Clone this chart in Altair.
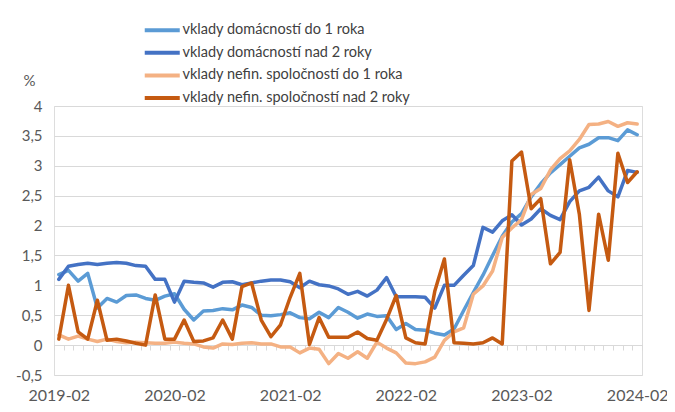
import json
import altair as alt
import pandas as pd

# categories: monthly observations 2019-02 .. 2024-02
all_months = [f"{y}-{m:02d}" for y in range(2019, 2025) for m in range(1, 13)]
months = all_months[all_months.index("2019-02"): all_months.index("2024-02") + 1]
label_months = ["2019-02", "2020-02", "2021-02", "2022-02", "2023-02", "2024-02"]

series_names = [
    "vklady domácností do 1 roka",
    "vklady domácností nad 2 roky",
    "vklady nefin. spoločností do 1 roka",
    "vklady nefin. spoločností nad 2 roky",
]
colors = ["#5B9BD5", "#4472C4", "#F4B183", "#C55A11"]

hh_short = [1.18, 1.25, 1.07, 1.2, 0.62, 0.78, 0.72, 0.83, 0.84, 0.78,
            0.75, 0.82, 0.86, 0.6, 0.42, 0.57, 0.58, 0.61, 0.59, 0.67,
            0.63, 0.5, 0.49, 0.51, 0.54, 0.46, 0.44, 0.55, 0.46, 0.63,
            0.55, 0.45, 0.52, 0.48, 0.49, 0.26, 0.36, 0.26, 0.25, 0.2,
            0.17, 0.27, 0.58, 0.88, 1.17, 1.5, 1.82, 2.06, 2.2, 2.48,
            2.7, 2.88, 3.02, 3.16, 3.3, 3.36, 3.47, 3.47, 3.42, 3.6, 3.52]
hh_long = [1.1, 1.32, 1.35, 1.37, 1.35, 1.37, 1.38, 1.37, 1.33, 1.32,
           1.1, 1.1, 0.72, 1.07, 1.05, 1.04, 0.97, 1.05, 1.06, 1.01,
           1.04, 1.07, 1.09, 1.09, 1.06, 0.96, 1.07, 1.01, 0.99, 0.94,
           0.85, 0.9, 0.82, 0.92, 1.13, 0.81, 0.81, 0.81, 0.8, 0.62,
           1.0, 1.0, 1.17, 1.33, 1.97, 1.89, 2.08, 2.18, 2.01, 2.11,
           2.28, 2.17, 2.1, 2.4, 2.58, 2.64, 2.81, 2.58, 2.48, 2.92, 2.89]
nfc_short = [0.17, 0.1, 0.15, 0.1, 0.06, 0.1, 0.06, 0.04, 0.05, 0.04,
             0.03, 0.03, 0.05, 0.03, 0.02, -0.03, -0.05, 0.02, 0.01, 0.03,
             0.04, 0.02, 0.02, -0.03, -0.03, -0.13, -0.05, -0.07, -0.31, -0.14,
             -0.22, -0.11, -0.22, 0.05, -0.05, -0.13, -0.3, -0.31, -0.28, -0.2,
             0.08, 0.22, 0.29, 0.85, 0.99, 1.24, 1.8, 1.96, 2.1, 2.52,
             2.62, 2.93, 3.12, 3.25, 3.44, 3.69, 3.7, 3.74, 3.66, 3.72, 3.7]
nfc_long = [0.1, 1.0, 0.22, 0.1, 0.75, 0.08, 0.1, 0.07, 0.03, 0.0,
            0.84, 0.1, 0.1, 0.42, 0.06, 0.07, 0.12, 0.42, 0.1, 0.98,
            1.04, 0.42, 0.14, 0.34, 0.8, 1.2, 0.01, 0.46, 0.13, 0.13,
            0.13, 0.22, 0.11, 0.08, 0.43, 0.83, 0.12, 0.04, 0.02, 0.9,
            1.44, 0.04, 0.03, 0.02, 0.04, 0.12, 0.02, 3.08, 3.23, 2.28,
            2.45, 1.36, 1.55, 3.1, 2.19, 0.58, 2.19, 1.42, 3.21, 2.72, 2.9]

y_ticks = [-0.5, 0, 0.5, 1, 1.5, 2, 2.5, 3, 3.5, 4]

rows = []
for name, vals in zip(series_names, [hh_short, hh_long, nfc_short, nfc_long]):
    for i, (m, v) in enumerate(zip(months, vals)):
        rows.append({"month": m, "idx": i, "series": name, "value": v})
df = pd.DataFrame(rows)

n = len(months)
x_scale = alt.Scale(domain=[-0.5, n - 0.5], nice=False, zero=False)
label_idx = [months.index(m) for m in label_months]
boundaries = [i - 0.5 for i in range(n + 1)]

grey = "#595959"
FONT = "Lato"

y_enc = alt.Y(
    "value:Q",
    scale=alt.Scale(domain=[-0.5, 4], nice=False, zero=False),
    axis=alt.Axis(
        values=y_ticks,
        labelExpr="replace(toString(datum.value), '.', ',')",
        grid=True, gridColor="#d9d9d9", gridWidth=1,
        ticks=False, domain=False,
        labelPadding=12, labelFontSize=15, labelColor=grey, labelFont=FONT,
        title="%", titleAngle=0, titleX=-25, titleY=-26,
        titleAlign="center", titleBaseline="middle",
        titleFontWeight="normal", titleFontSize=15, titleColor=grey, titleFont=FONT,
    ),
)

ticks_layer = alt.Chart(df).mark_line(strokeOpacity=0).encode(
    x=alt.X("idx:Q", scale=x_scale,
            axis=alt.Axis(orient="bottom", values=boundaries, labels=False, grid=False,
                          ticks=True, tickSize=5, tickColor="#d9d9d9",
                          domain=True, domainColor="#d9d9d9", offset=-30,
                          title=None)),
    y=y_enc,
    detail="series:N",
)

lines = alt.Chart(df).mark_line(strokeWidth=3.5, strokeJoin="round", strokeCap="round").encode(
    x=alt.X("idx:Q", scale=x_scale,
            axis=alt.Axis(orient="bottom", values=label_idx,
                          labelExpr=json.dumps(months) + "[datum.value]",
                          grid=False, ticks=False, domain=False,
                          labelFontSize=16, labelColor=grey, labelFont=FONT,
                          labelPadding=12, labelFlush=False, labelOverlap=False,
                          title=None)),
    y=y_enc,
    color=alt.Color("series:N",
                    scale=alt.Scale(domain=series_names, range=colors),
                    sort=series_names,
                    legend=alt.Legend(orient="none", legendX=101, legendY=-83,
                                      title=None, symbolType="M-4,0H4",
                                      symbolSize=76.6, symbolStrokeWidth=4,
                                      labelFontSize=14.5, labelColor="#404040",
                                      labelFont=FONT, rowPadding=5.6,
                                      labelOffset=13, padding=0, labelLimit=0,
                                      direction="vertical")),
)

chart = alt.layer(ticks_layer, lines).resolve_axis(x="independent").properties(
    width=588, height=269,
    autosize=alt.AutoSizeParams(type="none"),
    padding={"left": 46, "top": 98, "right": 25, "bottom": 30},
).configure_view(stroke=None).configure(font=FONT, background="white")

chart.save("out.html", embed_options={"renderer": "svg", "actions": False})
